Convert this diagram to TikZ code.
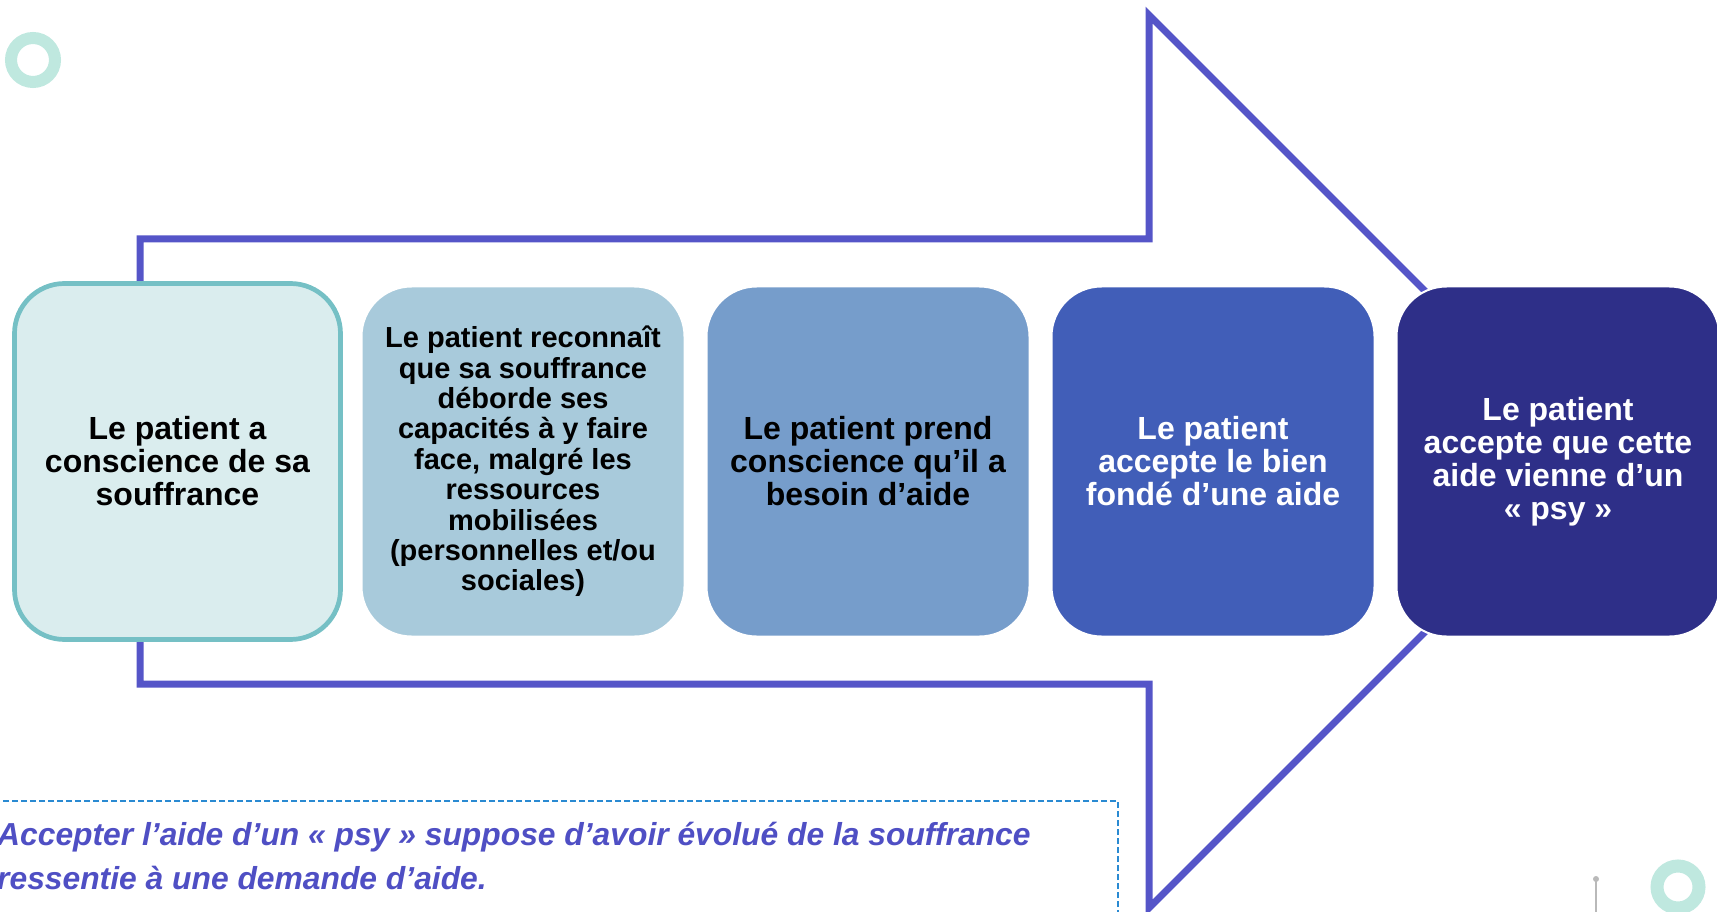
\documentclass[tikz,border=0pt]{standalone}
\usepackage{fontspec}
\setmainfont{Liberation Sans}
\usepackage{tikz}
\usetikzlibrary{positioning}
\definecolor{Arrowblue}{HTML}{5555C8}
\definecolor{Noteblue}{HTML}{4F4FC4}
\definecolor{Dashblue}{HTML}{2A8AD2}
\definecolor{Stepone}{HTML}{DAEDEE}
\definecolor{Steponeline}{HTML}{75C0C5}
\definecolor{Steptwo}{HTML}{A8CADB}
\definecolor{Stepthree}{HTML}{769DCB}
\definecolor{Stepfour}{HTML}{415EB8}
\definecolor{Stepfive}{HTML}{2E2F88}
\definecolor{Mint}{HTML}{BFE8DF}
\tikzstyle{stepbox} = [
    rectangle,
    rounded corners=50pt,
    minimum width=323pt,
    minimum height=350pt,
    inner sep=0pt,
    draw=white,
    line width=2pt,
    align=center,
    font={\bfseries\fontsize{32}{33}\selectfont}
]

\begin{document}
\begin{tikzpicture}[x=1pt,y=-1pt]
    \useasboundingbox (0,0) rectangle (1717,912);
    \clip (0,0) rectangle (1717,912);
    % Rings
    \draw[Mint, line width=12pt] (33,60) circle (22pt);
    \draw[Mint, line width=13pt] (1678,887) circle (21pt);
    \draw[gray!55, line width=2pt] (1596,881) -- (1596,912);
    \fill[gray!55] (1596,879) circle (3pt);
    % Note
    \draw[Dashblue, line width=1.8pt, dash pattern=on 6pt off 3pt] (-20,801) rectangle (1118,960);
    \node[anchor=base west, align=left, inner sep=0pt, text=Noteblue, font={\bfseries\itshape\fontsize{31.8}{44}\selectfont}] (note) at (-3,889) {Accepter l’aide d’un «~psy~» suppose d’avoir évolué de la souffrance\\ressentie à une demande d’aide.};
    % Big arrow
    \draw[Arrowblue, line width=7pt] (140,239) -- (1149,239) -- (1149,15) -- (1595.5,461.5) -- (1149,908) -- (1149,684) -- (140,684) -- cycle;
    % Steps
    \node[stepbox, fill=Stepone, draw=Steponeline, line width=4.7pt, minimum width=326pt, minimum height=356pt] (conscience) at (177.5,461.5) {Le patient a\\conscience de sa\\souffrance};
    \node[stepbox, fill=Steptwo, font={\bfseries\fontsize{29}{30.4}\selectfont}] (reconnait) at (523,461.5) {Le patient reconnaît\\que sa souffrance\\déborde ses\\capacités à y faire\\face, malgré les\\ressources\\mobilisées\\(personnelles et/ou\\sociales)};
    \node[stepbox, fill=Stepthree, right=20pt of reconnait] (besoin) {Le patient prend\\conscience qu’il a\\besoin d’aide};
    \node[stepbox, fill=Stepfour, text=white, right=20pt of besoin] (fonde) {Le patient\\accepte le bien\\fondé d’une aide};
    \node[stepbox, fill=Stepfive, text=white, right=20pt of fonde] (psy) {Le patient\\accepte que cette\\aide vienne d’un\\«~psy~»};
\end{tikzpicture}
\end{document}
